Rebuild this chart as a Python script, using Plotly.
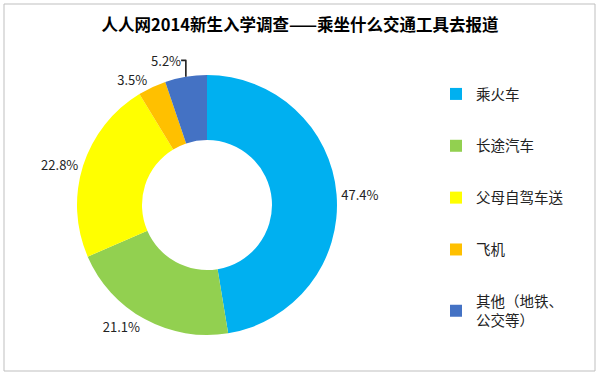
import plotly.graph_objects as go

labels = ["乘火车", "长途汽车", "父母自驾车送", "飞机", "其他（地铁、<br>公交等）"]
values = [47.4, 21.1, 22.8, 3.5, 5.2]
colors = ["#00B0F0", "#92D050", "#FFFF00", "#FFC000", "#4472C4"]
title = "人人网2014新生入学调查——乘坐什么交通工具去报道"

W, H = 600, 376
cx, cy, R = 207, 205, 130

fig = go.Figure()
fig.add_trace(go.Pie(
    labels=labels, values=values, hole=0.5, sort=False,
    direction="clockwise", rotation=0,
    marker=dict(colors=colors, line=dict(width=0)),
    texttemplate="%{value:.1f}%", textposition="outside",
    textfont=dict(family="Noto Sans CJK SC", size=13, color="#222222"),
    showlegend=False, hoverinfo="label+percent",
    domain=dict(x=[(cx - R) / W, (cx + R) / W], y=[1 - (cy + R) / H, 1 - (cy - R) / H]),
))
for i, (lab, col) in enumerate(zip(labels, colors)):
    fig.add_trace(go.Scatter(
        x=[None], y=[None], mode="markers", name=lab, legendgroup=str(i),
        marker=dict(symbol="square", size=9, color=col),
    ))

fig.update_layout(
    width=W, height=H, margin=dict(l=0, r=0, t=0, b=0),
    paper_bgcolor="white", plot_bgcolor="white",
    font=dict(family="Noto Sans CJK SC", size=13, color="#222222"),
    title=dict(text="<b>" + title + "</b>", x=0.5, xanchor="center",
               y=1 - 25 / H, yanchor="middle",
               font=dict(family="Noto Sans CJK SC", size=16.5, color="#000000")),
    xaxis=dict(visible=False), yaxis=dict(visible=False),
    legend=dict(x=436 / W, y=1 - 78 / H, xanchor="left", yanchor="top",
                tracegroupgap=30, itemsizing="constant",
                font=dict(family="Noto Sans CJK SC", size=14.5, color="#222222"),
                bgcolor="rgba(0,0,0,0)"),
    shapes=[dict(type="rect", xref="paper", yref="paper",
                 x0=4 / W, x1=595 / W, y0=1 - 371 / H, y1=1 - 4 / H,
                 line=dict(color="#BFBFBF", width=1))],
)
fig.write_html("out.html", config={"displayModeBar": False},
               post_script="document.body.style.margin='0';document.body.style.padding='0';")
